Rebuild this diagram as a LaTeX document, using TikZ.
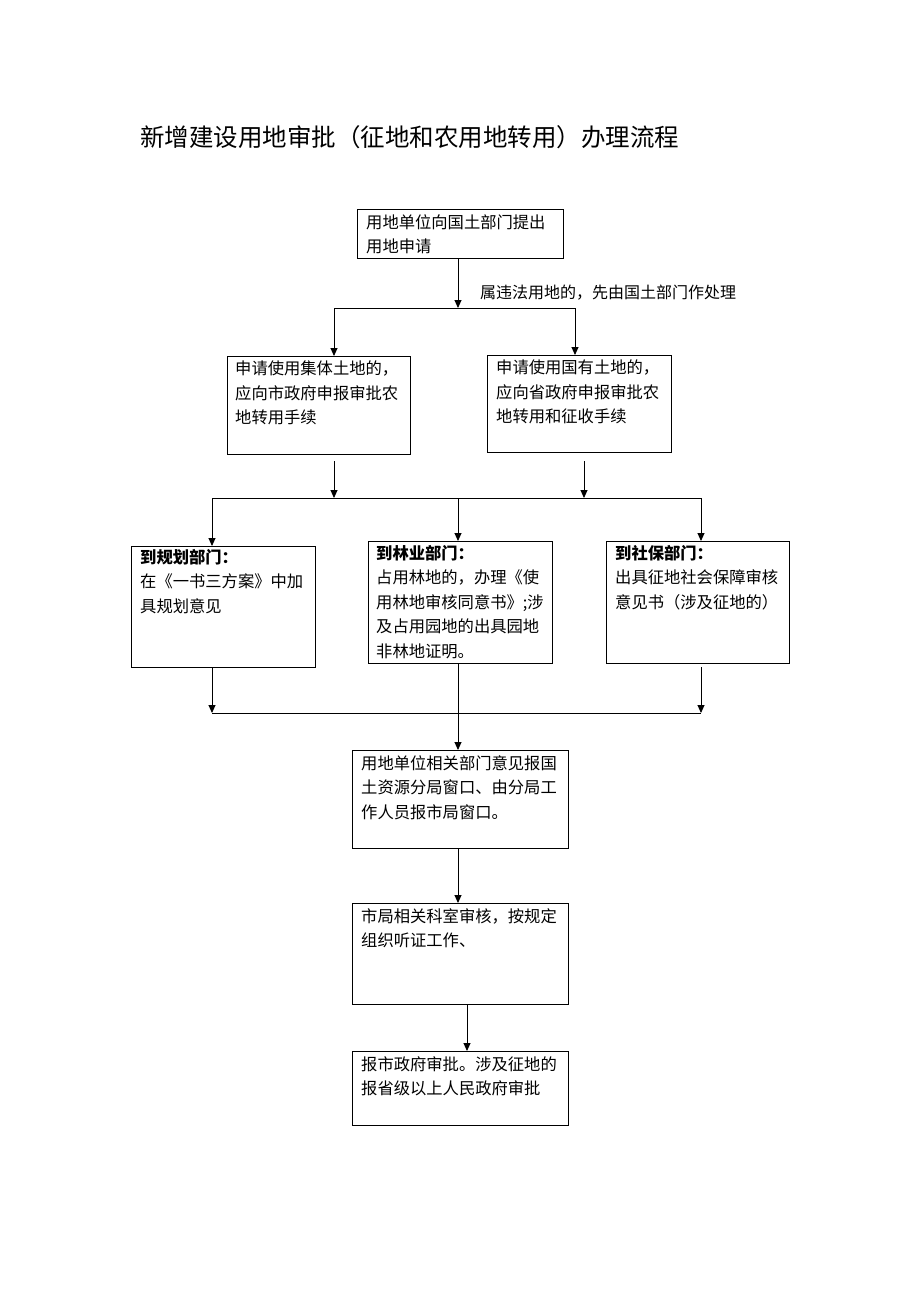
\documentclass[tikz,border=0pt]{standalone}
\usepackage{fontspec}
\setmainfont{Noto Sans CJK SC}
\usetikzlibrary{arrows.meta}
\tikzset{
  box/.style={draw, line width=1pt, anchor=north west, inner sep=0pt, outer sep=0pt},
  txt/.style={anchor=north west, align=left, inner sep=0pt, font=\fontsize{16.3}{24.5}\selectfont},
  arr/.style={-{Triangle[length=8pt,width=7pt]}, line width=0.9pt},
  ln/.style={line width=0.9pt}
}
\begin{document}
\begin{tikzpicture}[x=1pt,y=-1pt]
\useasboundingbox (0,0) rectangle (920,1302);
% title
\node[anchor=west, inner sep=0pt, font=\fontsize{24.5}{28}\selectfont] (title) at (140,137) {新增建设用地审批（征地和农用地转用）办理流程};
% boxes
\node[box, minimum width=206pt, minimum height=49pt] (b1) at (357,209) {};
\node[box, minimum width=183pt, minimum height=98pt] (b2) at (227,356) {};
\node[box, minimum width=184pt, minimum height=97pt] (b3) at (487,355) {};
\node[box, minimum width=184pt, minimum height=121pt] (b4) at (131,546) {};
\node[box, minimum width=184pt, minimum height=122pt] (b5) at (368,541) {};
\node[box, minimum width=183pt, minimum height=122pt] (b6) at (606,541) {};
\node[box, minimum width=216pt, minimum height=98pt] (b7) at (352,750) {};
\node[box, minimum width=216pt, minimum height=101pt] (b8) at (352,903) {};
\node[box, minimum width=216pt, minimum height=74pt] (b9) at (352,1051) {};
% texts
\node[txt] (t1) at ([xshift=9pt,yshift=-5pt]b1.north west) {用地单位向国土部门提出\\用地申请};
\node[txt] (t2) at ([xshift=8pt,yshift=-5pt]b2.north west) {申请使用集体土地的，\\应向市政府申报审批农\\地转用手续};
\node[txt] (t3) at ([xshift=9pt,yshift=-5pt]b3.north west) {申请使用国有土地的，\\应向省政府申报审批农\\地转用和征收手续};
\node[txt] (t4) at ([xshift=9pt,yshift=-3pt]b4.north west) {\textbf{到规划部门：}\\在《一书三方案》中加\\具规划意见};
\node[txt] (t5) at ([xshift=8pt,yshift=-4pt]b5.north west) {\textbf{到林业部门：}\\占用林地的，办理《使\\用林地审核同意书》;涉\\及占用园地的出具园地\\非林地证明。};
\node[txt] (t6) at ([xshift=9pt,yshift=-4pt]b6.north west) {\textbf{到社保部门：}\\出具征地社会保障审核\\意见书（涉及征地的）};
\node[txt] (t7) at ([xshift=9pt,yshift=-5pt]b7.north west) {用地单位相关部门意见报国\\土资源分局窗口、由分局工\\作人员报市局窗口。};
\node[txt] (t8) at ([xshift=9pt,yshift=-5pt]b8.north west) {市局相关科室审核，按规定\\组织听证工作、};
\node[txt] (t9) at ([xshift=9pt,yshift=-5pt]b9.north west) {报市政府审批。涉及征地的\\报省级以上人民政府审批};
\node[anchor=west, inner sep=0pt, font=\fontsize{16}{20}\selectfont] (lab) at (480,293) {属违法用地的，先由国土部门作处理};
% junction coordinates
\coordinate (j1) at (458,308);
\coordinate (j1l) at (334,308);
\coordinate (j1r) at (575,308);
\coordinate (h2a) at (334,498);
\coordinate (h2b) at (584,498);
\coordinate (h2l) at (212,498);
\coordinate (h2m) at (458,498);
\coordinate (h2r) at (701,498);
\coordinate (h3l) at (212,713);
\coordinate (h3r) at (701,713);
\coordinate (h3m) at (458,713);
\coordinate (x8) at (467,0);
\coordinate (x7) at (458,0);
% connectors
\draw[arr] (b1.south -| j1) -- (j1);
\draw[ln] (j1l) -- (j1r);
\draw[arr] (j1l) -- (j1l |- b2.north);
\draw[arr] (j1r) -- (j1r |- b3.north);
\draw[arr, shorten <=7pt] (b2.south -| h2a) -- (h2a);
\draw[arr, shorten <=9pt] (b3.south -| h2b) -- (h2b);
\draw[ln] (h2l) -- (h2r);
\draw[arr] (h2l) -- (h2l |- b4.north);
\draw[arr] (h2m) -- (h2m |- b5.north);
\draw[arr] (h2r) -- (h2r |- b6.north);
\draw[arr] (b4.south -| h3l) -- (h3l);
\draw[arr, shorten <=4pt] (b6.south -| h3r) -- (h3r);
\draw[ln] (h3l) -- (h3r);
\draw[arr] (b5.south -| h3m) -- (h3m |- b7.north);
\draw[arr] (b7.south -| x7) -- (x7 |- b8.north);
\draw[arr] (b8.south -| x8) -- (x8 |- b9.north);
\end{tikzpicture}
\end{document}
